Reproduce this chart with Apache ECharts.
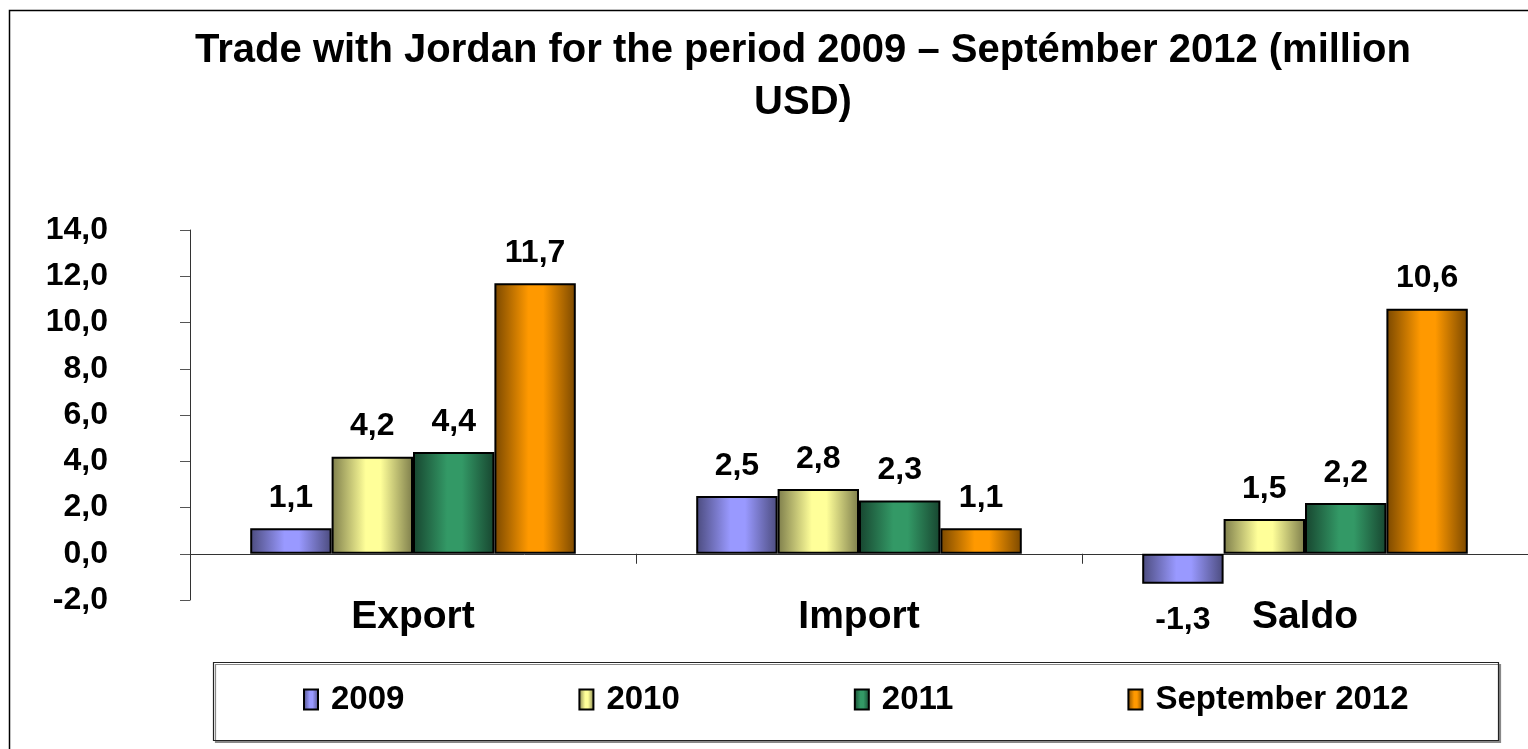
<!DOCTYPE html>
<html>
<head>
<meta charset="utf-8">
<script src="https://cdn.jsdelivr.net/npm/echarts@6/dist/echarts.min.js"></script>
<style>
  html, body { margin: 0; padding: 0; background: #fff; }
  #main { width: 1528px; height: 749px; }
</style>
</head>
<body>
<div id="main"></div>
<script>
const categories = ["Export", "Import", "Saldo"];
const seriesNames = ["2009", "2010", "2011", "September 2012"];
const values2009 = [1.1, 2.5, -1.3];
const values2010 = [4.2, 2.8, 1.5];
const values2011 = [4.4, 2.3, 2.2];
const valuesSep2012 = [11.7, 1.1, 10.6];
const yTicks = [-2, 0, 2, 4, 6, 8, 10, 12, 14];

const FONT = "'Liberation Sans', Arial, sans-serif";

// dark - light - dark horizontal shading, like the old Excel bars
function shade(dark, light) {
  return new echarts.graphic.LinearGradient(0, 0, 1, 0, [
    { offset: 0, color: dark },
    { offset: 0.42, color: light },
    { offset: 0.6, color: light },
    { offset: 1, color: dark }
  ]);
}

const colors = [
  shade("#4b4b7d", "#9999ff"),
  shade("#7d7d4b", "#ffff99"),
  shade("#17452f", "#339966"),
  shade("#7a4800", "#ff9900")
];

function fmt(v) {
  return v.toFixed(1).replace(".", ",");
}

const allValues = [values2009, values2010, values2011, valuesSep2012];

const myChart = echarts.init(document.getElementById("main"));

const option = {
  backgroundColor: "#fff",
  animation: false,
  title: {
    text: "Trade with Jordan for the period 2009 \u2013 Septémber 2012 (million\nUSD)",
    left: 798,
    top: 20,
    textAlign: "center",
    textStyle: {
      fontFamily: FONT,
      fontSize: 40,
      fontWeight: "bold",
      color: "#000",
      lineHeight: 52
    }
  },
  graphic: [
    {
      type: "rect",
      shape: { x: 9.5, y: 10.5, width: 1700, height: 900 },
      style: { fill: "none", stroke: "#000", lineWidth: 1.5 },
      silent: true,
      z: -10
    },
    {
      type: "rect",
      shape: { x: 213.5, y: 662.5, width: 1285, height: 78 },
      style: {
        fill: "#fff",
        stroke: "#222",
        lineWidth: 1.2,
        shadowColor: "#888",
        shadowOffsetX: 2,
        shadowOffsetY: 2,
        shadowBlur: 0
      },
      silent: true,
      z: -5
    }
  ],
  legend: {
    data: seriesNames,
    icon: "rect",
    left: 298,
    top: 678,
    itemGap: 174,
    itemWidth: 14,
    itemHeight: 20,
    textStyle: {
      fontFamily: FONT,
      fontSize: 33,
      fontWeight: "bold",
      color: "#000",
      padding: [0, 0, 0, 8]
    }
  },
  grid: {
    left: 190,
    right: 0,
    top: 230,
    bottom: 149,
    containLabel: false,
    outerBoundsMode: "none"
  },
  xAxis: {
    type: "category",
    data: categories,
    axisLine: { onZero: true, lineStyle: { color: "#333", width: 1 } },
    axisTick: { show: true, length: 10, lineStyle: { color: "#333" } },
    axisLabel: {
      margin: -2,
      fontFamily: FONT,
      fontSize: 39,
      fontWeight: "bold",
      color: "#000"
    }
  },
  yAxis: {
    type: "value",
    min: yTicks[0],
    max: yTicks[yTicks.length - 1],
    interval: 2,
    splitLine: { show: false },
    axisLine: { show: true, lineStyle: { color: "#333", width: 1 } },
    axisTick: { show: true, length: 10, lineStyle: { color: "#555" } },
    axisLabel: {
      margin: 82,
      fontFamily: FONT,
      fontSize: 32,
      fontWeight: "bold",
      color: "#000",
      formatter: fmt
    }
  },
  series: seriesNames.map((name, i) => ({
    name: name,
    type: "bar",
    barGap: "0%",
    barCategoryGap: "27%",
    itemStyle: {
      color: colors[i],
      borderColor: "#000",
      borderWidth: 2
    },
    label: {
      show: true,
      position: "outside",
      distance: 14,
      fontFamily: FONT,
      fontSize: 32,
      fontWeight: "bold",
      color: "#000",
      formatter: p => fmt(p.value)
    },
    data: allValues[i].map(v => (v < 0 ? { value: v, label: { distance: 20 } } : v))
  }))
};

myChart.setOption(option);
</script>
</body>
</html>
